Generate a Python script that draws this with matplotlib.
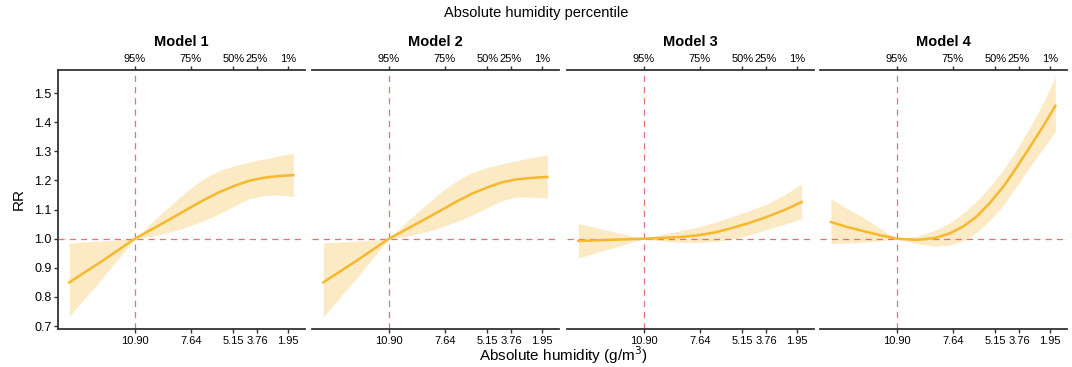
import numpy as np
import matplotlib
matplotlib.use("Agg")
import matplotlib.pyplot as plt

plt.rcParams['font.family'] = ['Liberation Sans', 'DejaVu Sans']

# reference humidity and tick positions (g/m3) with matching percentiles
ref_hum = 10.90
tick_hum = [10.90, 7.64, 5.15, 3.76, 1.95]
tick_labels = ['10.90', '7.64', '5.15', '3.76', '1.95']
pct_labels = ['95%', '75%', '50%', '25%', '1%']

titles = ['Model 1', 'Model 2', 'Model 3', 'Model 4']

# Model 1
hum1 = [14.74, 13.8, 12.85, 11.9, 10.90, 9.73, 8.7, 7.78, 6.9, 6.03, 5.1, 4.27, 3.4, 2.5, 1.64]
rr1 = [0.850, 0.886, 0.922, 0.960, 1.000, 1.038, 1.072, 1.103, 1.132, 1.158, 1.181, 1.198, 1.209, 1.215, 1.218]
lo1 = [0.734, 0.797, 0.862, 0.930, 1.000, 1.010, 1.025, 1.042, 1.062, 1.084, 1.112, 1.136, 1.148, 1.150, 1.145]
hi1 = [0.985, 0.989, 0.992, 0.996, 1.000, 1.066, 1.120, 1.168, 1.205, 1.232, 1.250, 1.262, 1.273, 1.284, 1.293]

# Model 2
hum2 = [14.74, 13.8, 12.85, 11.9, 10.90, 9.73, 8.7, 7.78, 6.9, 6.03, 5.1, 4.27, 3.4, 2.5, 1.64]
rr2 = [0.850, 0.886, 0.922, 0.960, 1.000, 1.037, 1.070, 1.100, 1.129, 1.155, 1.177, 1.194, 1.204, 1.209, 1.212]
lo2 = [0.732, 0.796, 0.861, 0.929, 1.000, 1.009, 1.024, 1.040, 1.060, 1.081, 1.108, 1.131, 1.143, 1.143, 1.139]
hi2 = [0.985, 0.988, 0.991, 0.995, 1.000, 1.065, 1.117, 1.164, 1.200, 1.227, 1.245, 1.257, 1.268, 1.279, 1.288]

# Model 3
hum3 = [14.74, 13.8, 12.85, 11.9, 10.90, 9.7, 8.7, 7.7, 6.7, 5.8, 4.8, 3.8, 2.7, 1.68]
rr3 = [0.992, 0.994, 0.996, 0.998, 1.000, 1.003, 1.006, 1.012, 1.022, 1.036, 1.053, 1.073, 1.098, 1.126]
lo3 = [0.934, 0.950, 0.966, 0.983, 1.000, 0.991, 0.987, 0.987, 0.991, 0.998, 1.012, 1.030, 1.049, 1.068]
hi3 = [1.052, 1.039, 1.026, 1.013, 1.000, 1.016, 1.028, 1.041, 1.057, 1.075, 1.095, 1.117, 1.150, 1.188]

# Model 4
hum4 = [14.76, 13.8, 12.85, 11.9, 10.90, 9.73, 8.7, 7.78, 7.0, 6.22, 5.45, 4.66, 3.9, 3.10, 2.35, 1.64]
rr4 = [1.057, 1.040, 1.026, 1.012, 1.000, 0.996, 1.002, 1.019, 1.043, 1.077, 1.124, 1.180, 1.245, 1.317, 1.386, 1.456]
lo4 = [0.983, 0.985, 0.988, 0.993, 1.000, 0.983, 0.974, 0.978, 0.994, 1.022, 1.064, 1.117, 1.180, 1.249, 1.310, 1.368]
hi4 = [1.137, 1.103, 1.072, 1.036, 1.000, 1.008, 1.028, 1.055, 1.089, 1.130, 1.180, 1.238, 1.305, 1.385, 1.466, 1.556]

models = [(hum1, rr1, lo1, hi1), (hum2, rr2, lo2, hi2),
          (hum3, rr3, lo3, hi3), (hum4, rr4, lo4, hi4)]

line_col = '#F5B82E'
fill_col = '#FBEAC3'
ref_col = '#E27378'
axis_col = '#333333'

fig = plt.figure(figsize=(10.72, 3.67), dpi=100)
W, H = 1072.0, 367.0
lefts = [58, 312, 567, 820]
width = 247
top, bottom = 70, 329

for i, (hum, rr, lo, hi) in enumerate(models):
    ax = fig.add_axes([lefts[i] / W, 1 - bottom / H, width / W, (bottom - top) / H])
    ax.fill_between(hum, lo, hi, color=fill_col, lw=0, zorder=1)
    ax.plot(hum, rr, color=line_col, lw=1.8, zorder=3)
    ax.axhline(1.0, color=ref_col, ls=(0, (5, 4)), lw=0.9, zorder=2)
    ax.axvline(ref_hum, color=ref_col, ls=(0, (5, 4)), lw=0.9, zorder=2)

    ax.set_xlim(15.40, 0.956)
    ax.set_ylim(0.69, 1.579)

    ax.spines['right'].set_visible(False)
    for s in ['top', 'bottom', 'left']:
        ax.spines[s].set_color(axis_col)
        ax.spines[s].set_linewidth(1.3)
    if i > 0:
        ax.spines['left'].set_visible(False)
        ax.tick_params(axis='y', left=False, labelleft=False)
    else:
        ax.set_yticks([0.7, 0.8, 0.9, 1.0, 1.1, 1.2, 1.3, 1.4, 1.5])
        ax.set_yticklabels(['0.7', '0.8', '0.9', '1.0', '1.1', '1.2', '1.3', '1.4', '1.5'])
        ax.tick_params(axis='y', length=3, width=1, color=axis_col, labelsize=9, pad=1.5)
        ax.set_ylabel('RR', fontsize=11, labelpad=6)

    ax.set_xticks(tick_hum)
    ax.set_xticklabels(tick_labels)
    ax.tick_params(axis='x', length=3, width=1, color=axis_col, labelsize=8, pad=2)

    sec = ax.secondary_xaxis('top')
    sec.set_xticks(tick_hum)
    sec.set_xticklabels(pct_labels)
    sec.tick_params(axis='x', length=3, width=1, color=axis_col, labelsize=8, pad=1.5)
    sec.spines['top'].set_visible(False)

    ax.set_title(titles[i], fontsize=10.5, fontweight='bold', pad=17)

fig.text(0.5, 1 - 13 / H, 'Absolute humidity percentile', ha='center', va='center', fontsize=10.5)
fig.text(563 / W, 1 - 355 / H, 'Absolute humidity (g/m$^3$)', ha='center', va='center', fontsize=11)

fig.savefig('out.png', dpi=100)
